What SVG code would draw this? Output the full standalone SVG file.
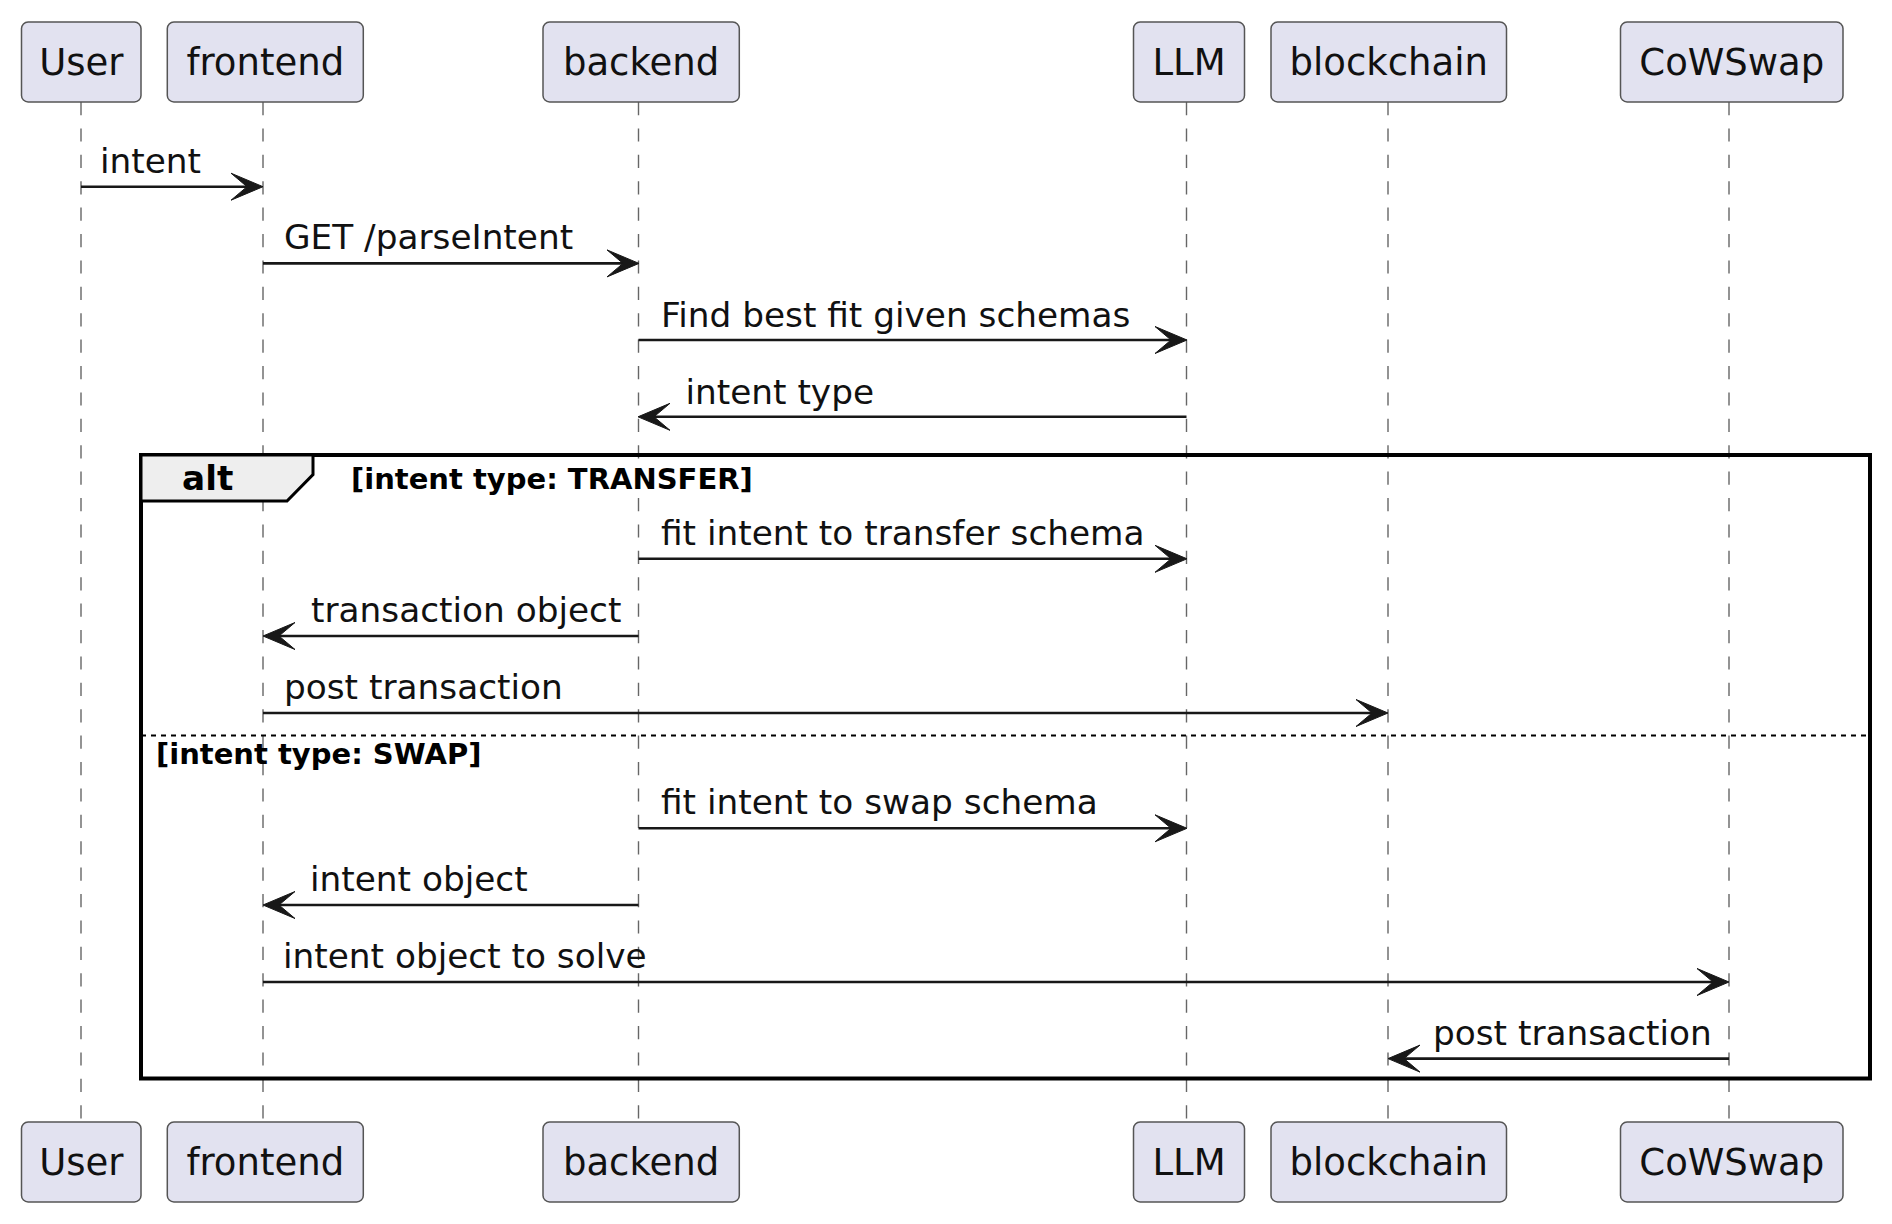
<svg xmlns="http://www.w3.org/2000/svg" width="1892" height="1224" viewBox="0 0 1892 1224">
<defs>
<style>
.box{fill:#E2E2F0;stroke:#555;stroke-width:1.5}
.pt{font-family:"DejaVu Sans",sans-serif;font-size:37px;fill:#111;text-anchor:middle}
.life{stroke:#666;stroke-width:1.4;stroke-dasharray:13.2 13.2;fill:none}
.msg{stroke:#181818;stroke-width:2.64;fill:none}
.head{fill:#181818;stroke:#181818;stroke-width:1}
.mt{font-family:"DejaVu Sans",sans-serif;font-size:34.3px;fill:#111}
.frame{fill:none;stroke:#000;stroke-width:4}
.tab{fill:#EEEEEE;stroke:#000;stroke-width:3}
.alt{font-family:"DejaVu Sans",sans-serif;font-size:34.3px;font-weight:bold;fill:#000}
.guard{font-family:"DejaVu Sans",sans-serif;font-size:29px;font-weight:bold;fill:#000}
.div{stroke:#000;stroke-width:2;stroke-dasharray:5 5;fill:none}
</style>
</defs>
<rect width="1892" height="1224" fill="#FFFFFF"/>
<g id="lifelines">
<line class="life" x1="81" y1="102" x2="81" y2="1122"/>
<line class="life" x1="263" y1="102" x2="263" y2="1122"/>
<line class="life" x1="638.5" y1="102" x2="638.5" y2="1122"/>
<line class="life" x1="1186.5" y1="102" x2="1186.5" y2="1122"/>
<line class="life" x1="1388" y1="102" x2="1388" y2="1122"/>
<line class="life" x1="1729" y1="102" x2="1729" y2="1122"/>
</g>
<g id="alt-frame">
<rect class="frame" x="141" y="455" width="1729" height="623.5"/>
<polygon class="tab" points="141,455 313,455 313,474.6 287,501 141,501"/>
<text class="alt" x="182" y="490">alt</text>
<text class="guard" x="351" y="489">[intent type: TRANSFER]</text>
<line class="div" x1="141" y1="735.5" x2="1870" y2="735.5"/>
<text class="guard" x="156" y="764">[intent type: SWAP]</text>
</g>
<g id="User">
<rect class="box" x="21.5" y="22" width="119.5" height="80" rx="6.6"/>
<text class="pt" x="81.3" y="74.5">User</text>
<rect class="box" x="21.5" y="1122" width="119.5" height="80" rx="6.6"/>
<text class="pt" x="81.3" y="1175">User</text>
</g>
<g id="frontend">
<rect class="box" x="167.3" y="22" width="196" height="80" rx="6.6"/>
<text class="pt" x="265.3" y="74.5">frontend</text>
<rect class="box" x="167.3" y="1122" width="196" height="80" rx="6.6"/>
<text class="pt" x="265.3" y="1175">frontend</text>
</g>
<g id="backend">
<rect class="box" x="543" y="22" width="196.3" height="80" rx="6.6"/>
<text class="pt" x="641.1" y="74.5">backend</text>
<rect class="box" x="543" y="1122" width="196.3" height="80" rx="6.6"/>
<text class="pt" x="641.1" y="1175">backend</text>
</g>
<g id="LLM">
<rect class="box" x="1133.5" y="22" width="111" height="80" rx="6.6"/>
<text class="pt" x="1189" y="74.5">LLM</text>
<rect class="box" x="1133.5" y="1122" width="111" height="80" rx="6.6"/>
<text class="pt" x="1189" y="1175">LLM</text>
</g>
<g id="blockchain">
<rect class="box" x="1271" y="22" width="235.5" height="80" rx="6.6"/>
<text class="pt" x="1388.7" y="74.5">blockchain</text>
<rect class="box" x="1271" y="1122" width="235.5" height="80" rx="6.6"/>
<text class="pt" x="1388.7" y="1175">blockchain</text>
</g>
<g id="CoWSwap">
<rect class="box" x="1620.5" y="22" width="222.5" height="80" rx="6.6"/>
<text class="pt" x="1731.8" y="74.5">CoWSwap</text>
<rect class="box" x="1620.5" y="1122" width="222.5" height="80" rx="6.6"/>
<text class="pt" x="1731.8" y="1175">CoWSwap</text>
</g>
<g id="connectors">
<line class="msg" x1="81" y1="186.7" x2="258" y2="186.7"/>
<polygon class="head" points="231,173.2 263,186.7 231,200.2 247,186.7"/>
<text class="mt" x="100" y="172.5">intent</text>

<line class="msg" x1="263" y1="263.4" x2="634" y2="263.4"/>
<polygon class="head" points="607,249.9 639,263.4 607,276.9 623,263.4"/>
<text class="mt" x="284" y="249.2">GET /parseIntent</text>

<line class="msg" x1="638.5" y1="340" x2="1182" y2="340"/>
<polygon class="head" points="1155,326.5 1187,340 1155,353.5 1171,340"/>
<text class="mt" x="661" y="326.5">Find best fit given schemas</text>

<line class="msg" x1="1186.5" y1="416.8" x2="643" y2="416.8"/>
<polygon class="head" points="670,403.3 638,416.8 670,430.3 654,416.8"/>
<text class="mt" x="685.5" y="403.5">intent type</text>

<line class="msg" x1="638.5" y1="558.8" x2="1182" y2="558.8"/>
<polygon class="head" points="1155,545.3 1187,558.8 1155,572.3 1171,558.8"/>
<text class="mt" x="661" y="544.5">fit intent to transfer schema</text>

<line class="msg" x1="638.5" y1="636" x2="268" y2="636"/>
<polygon class="head" points="295,622.5 263,636 295,649.5 279,636"/>
<text class="mt" x="311" y="622">transaction object</text>

<line class="msg" x1="263" y1="713" x2="1383" y2="713"/>
<polygon class="head" points="1356,699.5 1388,713 1356,726.5 1372,713"/>
<text class="mt" x="284" y="699">post transaction</text>

<line class="msg" x1="638.5" y1="828.3" x2="1182" y2="828.3"/>
<polygon class="head" points="1155,814.8 1187,828.3 1155,841.8 1171,828.3"/>
<text class="mt" x="661" y="814.3">fit intent to swap schema</text>

<line class="msg" x1="638.5" y1="905" x2="268" y2="905"/>
<polygon class="head" points="295,891.5 263,905 295,918.5 279,905"/>
<text class="mt" x="310" y="891">intent object</text>

<line class="msg" x1="263" y1="982" x2="1724" y2="982"/>
<polygon class="head" points="1697,968.5 1729,982 1697,995.5 1713,982"/>
<text class="mt" x="283" y="967.5">intent object to solve</text>

<line class="msg" x1="1729" y1="1058.6" x2="1393" y2="1058.6"/>
<polygon class="head" points="1420,1045.1 1388,1058.6 1420,1072.1 1404,1058.6"/>
<text class="mt" x="1433" y="1045">post transaction</text>
</g>
</svg>
